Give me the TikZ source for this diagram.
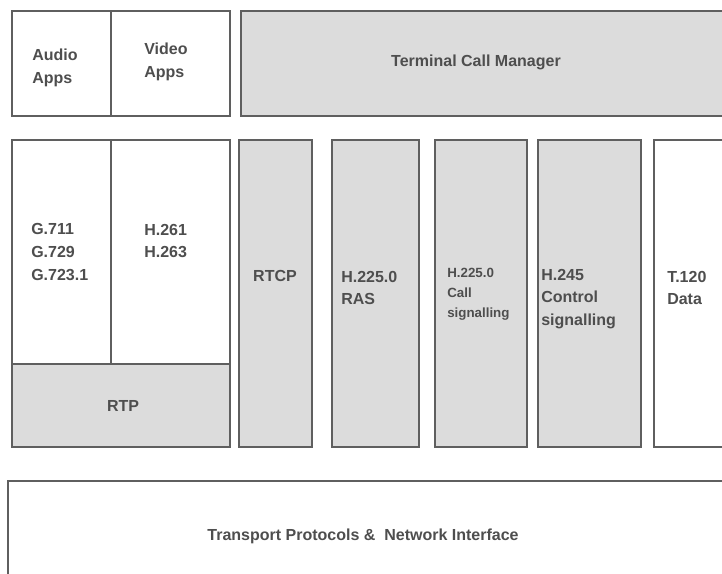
\documentclass[tikz,border=0pt]{standalone}
\usepackage{fontspec}
\setmainfont{Liberation Sans}
\usetikzlibrary{fit}
\definecolor{edgegray}{RGB}{95,95,95}
\definecolor{layergray}{RGB}{220,220,220}
\definecolor{inkgray}{RGB}{78,78,78}

\begin{document}
\begin{tikzpicture}[x=0.75pt, y=-0.75pt,
  layer/.style={draw=edgegray, line width=1.1pt, inner sep=0pt},
  shaded/.style={layer, fill=layergray},
  plain/.style={layer, fill=white},
  tag/.style={text=inkgray, font=\bfseries\fontsize{12}{17}\selectfont, align=left, inner sep=0pt}]
  % page frame, the diagram is cut off at right and bottom
  \fill[white] (0,0) rectangle (722,574);
  \useasboundingbox (0,0) rectangle (722,574);
  \clip (0,0) rectangle (722,574);

  % application layer
  \node[plain, fit={(12,11) (111,116)}] (audioapps) {};
  \node[plain, fit={(111,11) (230,116)}] (videoapps) {};
  \node[shaded, fit={(241,11) (760,116)}] (callmgr) {};
  \node[tag, anchor=west] (audioappstxt) at (32,68) {Audio\\Apps};
  \node[tag, anchor=west] (videoappstxt) at (144,62) {Video\\Apps};
  \node[tag] (callmgrtxt) at (476,62) {Terminal Call Manager};

  % codecs and signalling
  \node[plain, fit={(12,140) (111,364)}] (audio) {};
  \node[plain, fit={(111,140) (230,364)}] (video) {};
  \node[shaded, fit={(12,364) (230,447)}] (rtp) {};
  \node[shaded, fit={(239,140) (312,447)}] (rtcp) {};
  \node[shaded, fit={(332,140) (419,447)}] (ras) {};
  \node[shaded, fit={(435,140) (527,447)}] (callsig) {};
  \node[shaded, fit={(538,140) (641,447)}] (ctrlsig) {};
  \node[plain, fit={(654,140) (780,447)}] (data) {};

  \node[tag, anchor=west] (audiotxt) at (31,252) {G.711\\G.729\\G.723.1};
  \node[tag, anchor=west] (videotxt) at (144,241) {H.261\\H.263};
  \node[tag] (rtptxt) at (123,406) {RTP};
  \node[tag] (rtcptxt) at (275,276) {RTCP};
  \node[tag, anchor=west] (rastxt) at (341,288) {H.225.0\\RAS};
  \node[tag, anchor=west, font=\bfseries\fontsize{10}{15}\selectfont] (callsigtxt) at (447,294) {H.225.0\\Call\\signalling};
  \node[tag, anchor=west] (ctrlsigtxt) at (541,299) {H.245\\Control\\signalling};
  \node[tag, anchor=west] (datatxt) at (667,288) {T.120\\Data};

  % transport
  \node[plain, fit={(8,481) (760,620)}] (transport) {};
  \node[tag] (transporttxt) at (363,536) {Transport Protocols \&\ \ Network Interface};
\end{tikzpicture}
\end{document}
